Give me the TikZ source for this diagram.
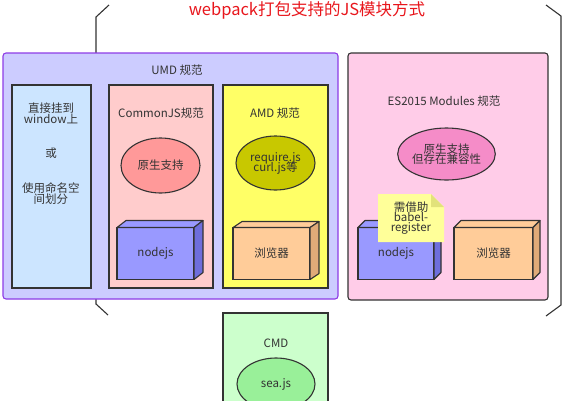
\documentclass[tikz,border=0pt]{standalone}
\usepackage{fontspec}
\setmainfont{Noto Sans CJK SC}
\usepackage{tikz}
\usetikzlibrary{arrows.meta,positioning,shapes.geometric}
\definecolor{cTitel}{HTML}{E8161C}
\definecolor{cRand}{HTML}{333333}
\definecolor{cText}{HTML}{333333}
\definecolor{cUmd}{HTML}{CCCCFF}
\definecolor{cUmdRand}{HTML}{8E3CE6}
\definecolor{cEs}{HTML}{FFCCE8}
\definecolor{cGlobal}{HTML}{CCE5FF}
\definecolor{cCjs}{HTML}{FFCCCC}
\definecolor{cAmd}{HTML}{FFFF66}
\definecolor{cCmd}{HTML}{CCFFCC}
\definecolor{cOvalCjs}{HTML}{FF9999}
\definecolor{cOvalAmd}{HTML}{C8C800}
\definecolor{cOvalEs}{HTML}{F58CC8}
\definecolor{cOvalCmd}{HTML}{99F099}
\definecolor{cNode}{HTML}{9999FF}
\definecolor{cNodeSeite}{HTML}{6E6EDC}
\definecolor{cBrowser}{HTML}{FFCC99}
\definecolor{cBrowserSeite}{HTML}{E0AA78}
\definecolor{cNotiz}{HTML}{FFFF99}
\definecolor{cNotizEcke}{HTML}{E2E27A}

\begin{document}
\begin{tikzpicture}[
  x=1pt,y=-1pt,font=\fontsize{11.5}{13}\selectfont,text=cText,
  gruppe/.style={draw=cRand,line width=1.1pt,rounded corners=3pt,outer sep=0pt},
  spalte/.style={draw=cRand,line width=1.1pt,outer sep=0pt},
  oval/.style={ellipse,draw=cRand,line width=1.1pt,inner sep=0pt,align=center},
  quader/.style={draw=cRand,line width=1.1pt,outer sep=0pt,inner sep=0pt,
                 minimum width=77pt,minimum height=52pt},
  seite/.style={draw=cRand,line width=1.1pt,line join=round},
  klammer/.style={draw=cRand,line width=1.1pt},
  lbl/.style={align=center,inner sep=1pt}
]
\useasboundingbox (0,0) rectangle (574,400);

% ---- titel und klammer
\node[lbl,text=cTitel,font=\fontsize{16.5}{18}\selectfont] (titel) at (307,10) {webpack打包支持的JS模块方式};
\draw[klammer] (109,5) -- (96,17) -- (96,53);
\draw[klammer] (96,299) -- (96,304) -- (108,315);
\draw[klammer] (546,5) -- (561,16) -- (561,305) -- (546,316);

% ---- gruppen
\node[gruppe,draw=cUmdRand,fill=cUmd,minimum width=335pt,minimum height=246pt] (umd) at (170.5,176) {};
\node[gruppe,fill=cEs,minimum width=200pt,minimum height=247pt] (es) at (448,176.5) {};
\node[lbl] (umdT) at (177,70) {UMD 规范};
\node[lbl] (esT) at (444,101) {ES2015 Modules 规范};

% ---- spalten im UMD
\node[spalte,fill=cGlobal,minimum width=79pt,minimum height=203pt] (glob) at (51.5,186.5) {};
\node[spalte,fill=cCjs,minimum width=104pt,minimum height=203pt] (cjs) at (161,186.5) {};
\node[spalte,fill=cAmd,minimum width=105pt,minimum height=203pt] (amd) at (275.5,186.5) {};
\node[lbl] (globA) at (51,113) {直接挂到\\[-2pt]window上};
\node[lbl] (globB) at (51,153) {或};
\node[lbl] (globC) at (51,194) {使用命名空\\[-2pt]间划分};
\node[lbl] (cjsT) at (161,113) {CommonJS规范};
\node[lbl] (amdT) at (275,113) {AMD 规范};

% ---- CMD
\node[spalte,fill=cCmd,minimum width=105pt,minimum height=110pt] (cmd) at (275.5,368) {};
\node[lbl] (cmdT) at (276,343) {CMD};

% ---- ovale
\node[oval,fill=cOvalCjs,minimum width=79pt,minimum height=55pt] (ovCjs) at (160.5,165.5) {原生支持};
\node[oval,fill=cOvalAmd,minimum width=79pt,minimum height=54pt] (ovAmd) at (275.5,163) {require.js\\[-3pt]curl.js等};
\node[oval,fill=cOvalEs,minimum width=83pt,minimum height=52pt] (ovEs) at (446.5,154) {原生支持\\[-3pt]但存在兼容性};
\node[oval,fill=cOvalCmd,minimum width=78pt,minimum height=52pt] (ovCmd) at (276,384) {sea.js};

% ---- quader
\node[quader,fill=cNode] (njA) at (155.5,253.5) {nodejs};
\filldraw[seite,fill=cNode] (njA.north west) -- ++(9,-7) -- ([shift={(9,-7)}]njA.north east) -- (njA.north east) -- cycle;
\filldraw[seite,fill=cNodeSeite] (njA.north east) -- ++(9,-7) -- ([shift={(9,-7)}]njA.south east) -- (njA.south east) -- cycle;

\node[quader,fill=cBrowser] (brA) at (271.5,253.5) {浏览器};
\filldraw[seite,fill=cBrowser] (brA.north west) -- ++(9,-6) -- ([shift={(9,-6)}]brA.north east) -- (brA.north east) -- cycle;
\filldraw[seite,fill=cBrowserSeite] (brA.north east) -- ++(9,-6) -- ([shift={(9,-6)}]brA.south east) -- (brA.south east) -- cycle;

\node[quader,fill=cNode,minimum width=76pt] (njB) at (396,253.5) {nodejs};
\filldraw[seite,fill=cNode] (njB.north west) -- ++(7,-7) -- ([shift={(7,-7)}]njB.north east) -- (njB.north east) -- cycle;
\filldraw[seite,fill=cNodeSeite] (njB.north east) -- ++(7,-7) -- ([shift={(7,-7)}]njB.south east) -- (njB.south east) -- cycle;

\node[quader,fill=cBrowser,minimum width=79pt] (brB) at (493.5,253.5) {浏览器};
\filldraw[seite,fill=cBrowser] (brB.north west) -- ++(7,-7) -- ([shift={(7,-7)}]brB.north east) -- (brB.north east) -- cycle;
\filldraw[seite,fill=cBrowserSeite] (brB.north east) -- ++(7,-7) -- ([shift={(7,-7)}]brB.south east) -- (brB.south east) -- cycle;

% ---- notiz
\node[lbl,minimum width=66pt,minimum height=48pt,outer sep=0pt,
      path picture={
        \fill[cNotiz] (path picture bounding box.north west) -- ([shift={(-13,0)}]path picture bounding box.north east)
          -- ([shift={(0,13)}]path picture bounding box.north east) -- (path picture bounding box.south east)
          -- (path picture bounding box.south west) -- cycle;
        \fill[cNotizEcke] ([shift={(-13,0)}]path picture bounding box.north east) -- ([shift={(0,13)}]path picture bounding box.north east)
          -- ([shift={(-13,13)}]path picture bounding box.north east) -- cycle;}]
      (notiz) at (411,218) {需借助\\[-3pt]babel-\\[-3pt]register};
\end{tikzpicture}
\end{document}
